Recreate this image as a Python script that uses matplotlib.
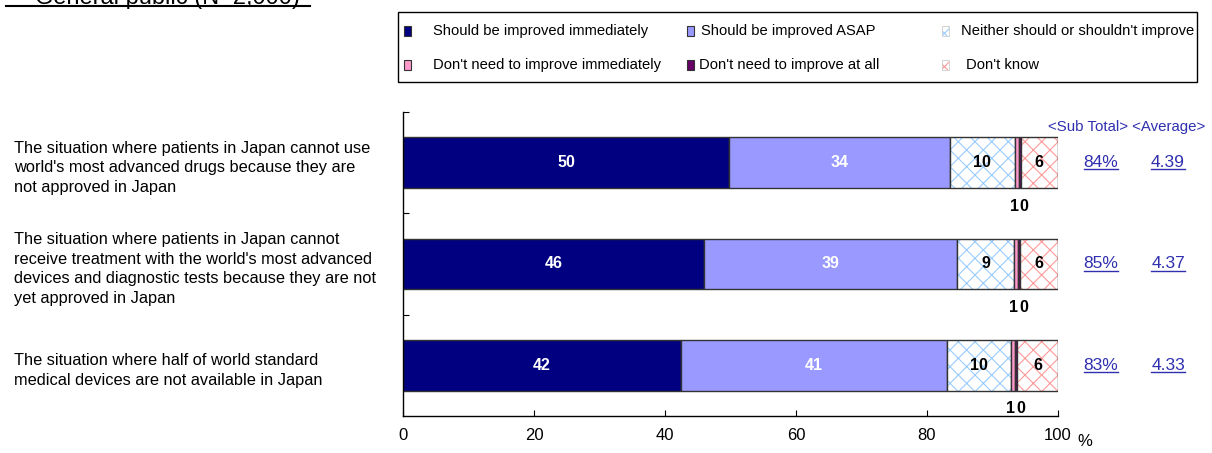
import matplotlib
matplotlib.use('Agg')
import matplotlib.pyplot as plt
import matplotlib.transforms as mtransforms
from matplotlib.patches import Rectangle
from matplotlib.lines import Line2D

plt.rcParams['font.family'] = ['Liberation Sans', 'DejaVu Sans']
plt.rcParams['hatch.linewidth'] = 0.8

title = 'General public (N=2,000)'

categories = [
    "The situation where patients in Japan cannot use\n"
    "world's most advanced drugs because they are\n"
    "not approved in Japan",
    "The situation where patients in Japan cannot\n"
    "receive treatment with the world's most advanced\n"
    "devices and diagnostic tests because they are not\n"
    "yet approved in Japan",
    "The situation where half of world standard\n"
    "medical devices are not available in Japan",
]

# answer shares, % of respondents
improve_now = [49.8, 46.0, 42.4]
improve_asap = [33.7, 38.6, 40.6]
neither = [9.9, 8.7, 9.8]
not_now = [0.6, 0.6, 0.6]
not_at_all = [0.3, 0.3, 0.4]
dont_know = [5.7, 5.8, 6.2]

sub_total = [84, 85, 83]
average = [4.39, 4.37, 4.33]

series_names = ['Should be improved immediately', 'Should be improved ASAP',
                "Neither should or shouldn't improve",
                "Don't need to improve immediately", "Don't need to improve at all",
                "Don't know"]
fills = ['#000080', '#9999ff', 'white', '#ff99cc', '#660066', 'white']
hatches = [None, None, '#99ccff', None, None, '#ff9999']
label_colors = ['white', 'white', 'black', None, None, 'black']
link_blue = '#2f2fb0'

W, H = 1212, 453
fig = plt.figure(figsize=(W / 100, H / 100), dpi=100)


def px(x, y):
    return x / W, 1 - y / H


ax = fig.add_axes([403 / W, 1 - 416 / H, (1058 - 403) / W, (416 - 112) / H])

series = [improve_now, improve_asap, neither, not_now, not_at_all, dont_know]
ypos = [i + 0.5 for i in range(len(categories))]
bar_h = 0.5
left = [0.0] * len(categories)
for k, vals in enumerate(series):
    if hatches[k]:
        ax.barh(ypos, vals, left=left, height=bar_h, color='white',
                hatch='xx', edgecolor=hatches[k], linewidth=0)
        ax.barh(ypos, vals, left=left, height=bar_h, fill=False,
                edgecolor='#333333', linewidth=1)
    else:
        ax.barh(ypos, vals, left=left, height=bar_h, color=fills[k],
                edgecolor='#333333', linewidth=1)
    for i, v in enumerate(vals):
        if label_colors[k]:
            ax.text(left[i] + v / 2, ypos[i], f'{v:.0f}', ha='center', va='center',
                    color=label_colors[k], fontsize=11.5, fontweight='bold')
    left = [l + v for l, v in zip(left, vals)]

# the two thin segments get their values written under the bar
for i in range(len(categories)):
    base = improve_now[i] + improve_asap[i] + neither[i]
    ax.text(base + not_now[i] / 2 + 0.3, ypos[i] + bar_h / 2 + 0.18, f'{not_now[i]:.0f}',
            ha='right', va='center', fontsize=11.5, fontweight='bold')
    ax.text(base + not_now[i] + not_at_all[i] / 2, ypos[i] + bar_h / 2 + 0.18,
            f'{not_at_all[i]:.0f}', ha='left', va='center', fontsize=11.5, fontweight='bold')

ax.set_xlim(0, 100)
ax.set_ylim(3, 0)
ax.set_xticks([0, 20, 40, 60, 80, 100])
ax.set_yticks([0, 1, 2])
ax.set_yticklabels([])
ax.tick_params(axis='x', direction='in', length=4, pad=9, labelsize=12)
ax.tick_params(axis='y', direction='in', length=4)
ax.spines['top'].set_visible(False)
ax.spines['right'].set_visible(False)
for s in ('left', 'bottom'):
    ax.spines[s].set_linewidth(1)
fig.text(*px(1077, 442), '%', fontsize=12, va='center')

# category labels and the summary columns
trans = mtransforms.blended_transform_factory(fig.transFigure, ax.transData)
for i, cat in enumerate(categories):
    fig.text(14 / W, ypos[i] + 0.05, cat, transform=trans, va='center', ha='left',
             fontsize=11.8, linespacing=1.38)

fig.text(*px(1048, 127), '<Sub Total> <Average>', color=link_blue, fontsize=10.8,
         va='center', ha='left')
links = []
for i in range(len(categories)):
    links.append(fig.text(1101 / W, ypos[i], f'{sub_total[i]}%', transform=trans,
                          color=link_blue, fontsize=12.5, ha='center', va='center'))
    links.append(fig.text(1168 / W, ypos[i], f'{average[i]:.2f}', transform=trans,
                          color=link_blue, fontsize=12.5, ha='center', va='center'))

# legend box
fig.patches.append(Rectangle(px(398, 82), 799 / W, 70 / H, transform=fig.transFigure,
                             fill=False, edgecolor='black', linewidth=1))
marker_x = [404, 687, 942, 404, 687, 942]
text_x = [433, 701, 961, 433, 699, 966]
row_y = [31, 31, 31, 65, 65, 65]
for k, name in enumerate(series_names):
    mx, my = px(marker_x[k], row_y[k] + 5)
    if hatches[k]:
        fig.patches.append(Rectangle((mx, my), 7 / W, 10 / H, transform=fig.transFigure,
                                     facecolor='white', hatch='xxx', edgecolor=hatches[k],
                                     linewidth=0))
        fig.patches.append(Rectangle((mx, my), 7 / W, 10 / H, transform=fig.transFigure,
                                     fill=False, edgecolor='#cccccc', linewidth=0.6))
    else:
        fig.patches.append(Rectangle((mx, my), 7 / W, 10 / H, transform=fig.transFigure,
                                     facecolor=fills[k], edgecolor='#333333', linewidth=0.8))
    fig.text(*px(text_x[k], row_y[k]), name, fontsize=10.6, va='center', ha='left')

# title, pushed up past the top edge, underlined
title_text = fig.text(*px(35, 4), title, fontsize=17, va='baseline', ha='left')
fig.add_artist(Line2D([6 / W, 310 / W], [1 - 6 / H, 1 - 6 / H], color='black', linewidth=1.5))

fig.canvas.draw()
renderer = fig.canvas.get_renderer()
for t in links:
    bb = t.get_window_extent(renderer)
    y = bb.y0 + 1
    fig.add_artist(Line2D([bb.x0 / W, bb.x1 / W], [y / H, y / H], color=link_blue,
                          linewidth=1))

fig.savefig('out.png', dpi=100)
